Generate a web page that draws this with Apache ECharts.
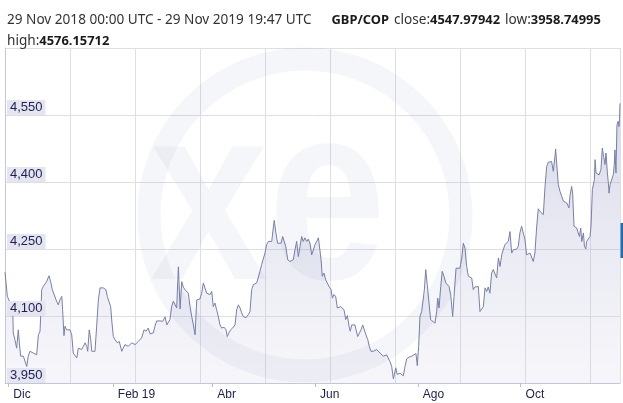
<!DOCTYPE html>
<html><head><meta charset="utf-8">
<script src="https://cdn.jsdelivr.net/npm/echarts@6/dist/echarts.min.js"></script>
<style>html,body{margin:0;padding:0;background:#fff}#c{width:623px;height:403px}</style>
</head><body><div id="c"></div>
<script>
// ---- data ----
const startDate = Date.UTC(2018, 10, 29);   // 29 Nov 2018
const endDate = Date.UTC(2019, 10, 29);     // 29 Nov 2019
const dayOffsets = [
0.0,1.4,4.0,4.6,4.9,5.9,6.9,7.9,8.5,9.3,10.9,11.9,12.9,13.8,14.8,15.8,16.8,17.8,18.8,19.8,20.8,21.8,22.7,23.7,24.7,26.1,27.1,28.1,29.1,30.3,31.6,32.6,33.7,34.2,35.0,35.6,36.6,37.6,38.6,39.6,40.5,41.5,42.6,43.5,44.5,45.5,46.5,47.5,48.5,49.1,50.0,50.9,51.5,52.4,53.4,54.4,55.4,56.4,57.4,58.3,59.9,60.7,61.7,62.7,63.5,64.3,65.3,66.6,67.8,69.3,
71.2,73.2,75.2,77.2,79.1,81.1,82.5,83.7,85.0,86.1,88.0,89.0,90.0,92.0,93.6,95.0,96.0,96.9,97.9,98.9,99.9,100.9,101.9,102.9,103.9,104.9,105.8,106.8,108.8,109.8,110.8,111.8,112.8,113.8,115.7,116.7,117.7,118.7,119.7,120.7,121.7,122.7,123.6,124.6,125.6,126.6,127.6,128.6,130.0,131.2,131.9,132.9,133.9,135.1,136.5,137.5,138.5,139.5,140.5,141.4,143.0,144.4,145.4,
146.4,147.4,149.4,150.4,151.3,152.3,153.3,154.3,155.3,156.3,157.3,158.3,159.2,159.8,160.8,161.8,162.8,163.8,164.8,165.8,166.6,167.8,169.1,170.2,171.1,172.1,173.1,174.1,175.1,176.1,177.0,178.0,179.1,180.0,181.0,182.0,183.0,184.0,185.0,186.0,187.0,187.6,188.3,189.3,190.3,191.3,192.3,193.5,194.3,195.3,196.3,197.2,198.2,199.2,200.2,201.2,202.2,203.2,204.2,204.9,205.8,206.7,207.7,209.3,210.3,211.3,212.3,213.2,214.2,215.3,216.2,217.2,218.6,219.6,
220.6,221.6,222.6,224.5,226.5,227.5,228.5,229.5,230.5,231.9,232.8,234.4,236.4,237.4,238.4,239.9,241.4,242.7,243.9,244.7,245.5,246.3,247.3,248.3,248.9,249.7,250.6,251.6,252.6,253.6,255.2,256.2,256.8,257.6,258.6,259.5,260.5,261.6,262.5,263.5,264.5,265.7,266.5,267.7,268.7,270.0,271.1,272.0,273.0,274.0,275.0,276.0,277.0,277.9,278.9,279.9,280.9,281.9,282.9,283.9,284.9,285.9,286.8,287.8,288.8,289.8,290.8,291.8,292.8,
293.8,294.8,295.7,296.7,297.7,298.7,299.7,300.7,301.7,302.7,303.7,304.6,305.6,306.6,307.6,308.6,309.6,310.6,311.6,312.6,313.5,314.5,315.5,316.5,317.5,318.5,319.5,320.5,321.5,322.4,323.4,324.4,325.4,326.4,326.8,327.4,328.4,329.4,330.4,331.4,332.4,333.4,334.3,334.7,335.3,336.3,336.9,337.7,338.3,339.3,340.3,340.9,341.7,342.3,343.3,343.9,344.7,345.2,346.2,347.2,347.8,348.6,349.2,349.8,350.2,350.8,351.6,352.6,353.7,354.5,355.3,356.1,356.7,357.5,358.1,358.5,359.1,360.1,361.0,361.6,362.0,362.6,363.2,363.9,364.4,364.7,365.0
];
const gbpCop = [
4198,4144,4121,4114,4062,4047,4028,4069,4040,4010,4010,4006,3987,4010,4021,4025,4017,4021,4013,4058,4066,4159,4166,4163,4177,4190,4177,4159,4155,4136,4125,4136,4144,4114,4056,4077,4069,4066,4069,4058,4017,4013,4006,4028,4032,4025,4032,4040,4032,4021,4069,4047,4021,4017,4021,4077,4136,4163,4166,4163,4159,4144,4148,4121,4084,4054,4047,4040,4043,4021,
4036,4032,4040,4036,4043,4051,4069,4066,4073,4060,4062,4077,4089,4089,4088,4098,4080,4078,4092,4121,4133,4129,4118,4210,4116,4177,4165,4159,4151,4121,4099,4080,4058,4136,4138,4151,4174,4177,4151,4155,4148,4155,4121,4129,4114,4099,4080,4073,4075,4069,4054,4062,4069,4073,4080,4114,4125,4118,4107,4099,4096,4103,4110,
4159,4170,4174,4177,4200,4215,4219,4241,4260,4267,4263,4267,4297,4314,4286,4263,4265,4263,4278,4282,4256,4226,4222,4226,4226,4248,4267,4233,4256,4278,4267,4275,4267,4272,4263,4237,4248,4260,4267,4275,4277,4226,4189,4196,4181,4174,4166,4159,4140,4148,4143,4118,4114,4121,4125,4114,4092,4101,4077,4066,4080,4084,4080,4054,4051,4069,4080,4080,4058,4047,4032,4021,4021,4025,
4025,4028,4017,4010,4013,4010,3998,3987,3959,3984,3969,3972,3966,3987,4004,4008,4010,4013,4016,3989,4032,4099,4110,4114,4159,4204,4170,4166,4092,4088,4084,4110,4140,4118,4166,4200,4189,4174,4177,4166,4148,4099,4144,4207,4204,4207,4230,4263,4252,4211,4189,4189,4185,4159,4165,4163,4166,4110,4114,4121,4163,4155,4165,4151,4196,4204,4204,4185,4230,
4211,4237,4233,4260,4263,4267,4289,4241,4248,4252,4250,4256,4286,4301,4301,4271,4237,4237,4241,4237,4222,4241,4297,4340,4334,4331,4327,4390,4435,4444,4448,4446,4424,4457,4474,4443,4394,4379,4368,4357,4354,4353,4349,4342,4369,4390,4375,4301,4301,4297,4293,4278,4297,4267,4286,4256,4250,4267,4267,4278,4301,4383,4383,4405,4450,4420,4420,4416,4428,4476,4457,4439,4465,4420,4398,4375,4394,4398,4416,4439,4472,4420,4528,4536,4524,4539,4576
];
const tickDates = ['2018-12-01', '2019-02-01', '2019-04-01', '2019-06-01', '2019-08-01', '2019-10-01'];
const tickLabels = ['Dic', 'Feb 19', 'Abr', 'Jun', 'Ago', 'Oct'];
const yMin = 3950, yMax = 4700, yStep = 150;
const headerRange = '29 Nov 2018 00:00 UTC - 29 Nov 2019 19:47 UTC';
const headerPair = 'GBP/COP';
const summaryNames = ['close', 'low', 'high'];
const summaryValues = ['4547.97942', '3958.74995', '4576.15712'];

// ---- chart ----
const DAY = 86400000;
const totalDays = (endDate - startDate) / DAY;
const seriesData = dayOffsets.map((d, i) => [d, gbpCop[i]]);
const tickDays = tickDates.map(s => (Date.parse(s + 'T00:00:00Z') - startDate) / DAY);
const labelFor = v => { const i = tickDays.indexOf(v); return i >= 0 ? tickLabels[i] : ''; };

const titleText =
  '{n|' + headerRange + '}    {b|' + headerPair + '} ' +
  '{n|' + summaryNames[0] + ':}{b|' + summaryValues[0] + '} ' +
  '{n|' + summaryNames[1] + ':}{b|' + summaryValues[1] + '}\n' +
  '{n|' + summaryNames[2] + ':}{b|' + summaryValues[2] + '}';

const yLabelStyle = {
  inside: true, margin: 2, align: 'left', verticalAlign: 'bottom',
  showMaxLabel: false,
  formatter: v => v.toLocaleString('en-US'),
  fontFamily: 'Liberation Sans', fontSize: 13, color: '#1c1f55',
  backgroundColor: '#e5e5f0', padding: [1, 3, 1, 3], lineHeight: 13
};

const chart = echarts.init(document.getElementById('c'), null, {renderer: 'canvas'});
chart.setOption({
  animation: false,
  backgroundColor: '#ffffff',
  title: {
    text: titleText, left: 2, top: 5,
    textStyle: {
      rich: {
        n: {fontFamily: 'Noto Sans', fontSize: 13.6, fontWeight: 'normal', color: '#333333', lineHeight: 21},
        b: {fontFamily: 'Noto Sans', fontSize: 12.9, fontWeight: 'bold', color: '#1a1a1a', lineHeight: 21}
      }
    }
  },
  grid: {left: 5, right: 3, top: 48, bottom: 20, containLabel: false},
  xAxis: [{
    type: 'value', min: 0, max: totalDays,
    axisLine: {show: true, onZero: false, lineStyle: {color: '#c3c6dc', width: 1}},
    axisTick: {show: true, customValues: tickDays, length: 4, inside: false, lineStyle: {color: '#b9bcd2'}},
    axisLabel: {
      customValues: tickDays, formatter: labelFor,
      align: 'left', padding: [0, 0, 0, 5], margin: 6,
      fontFamily: 'Liberation Sans', fontSize: 12, color: '#1c1f55'
    },
    splitLine: {show: false}
  }, {
    type: 'value', min: 0, max: 615, interval: 65, position: 'bottom',
    axisLine: {show: false}, axisTick: {show: false}, axisLabel: {show: false},
    splitLine: {show: true, lineStyle: {color: '#dedee4', width: 1}}
  }],
  yAxis: [{
    type: 'value', min: yMin, max: yMax, interval: yStep,
    axisLine: {show: true, lineStyle: {color: '#c3c6dc'}},
    axisTick: {show: false},
    splitLine: {show: true, lineStyle: {color: '#dedee4', width: 1}},
    axisLabel: {show: false}
  }, {
    type: 'value', min: yMin, max: yMax, interval: yStep, position: 'left', z: 10,
    axisLine: {show: false}, axisTick: {show: false}, splitLine: {show: false},
    axisLabel: yLabelStyle
  }],
  graphic: [
    {type: 'circle', z: 100, silent: true, shape: {cx: 305, cy: 215, r: 156},
     style: {fill: 'none', stroke: 'rgba(80,88,150,0.055)', lineWidth: 23}},
    {type: 'text', z: 100, silent: true, x: 268, y: 210, scaleX: 0.85,
     style: {text: 'xe', font: 'bold 250px "Liberation Sans"', fill: 'rgba(80,88,150,0.055)', align: 'center', verticalAlign: 'middle'}},
    {type: 'rect', z: 100, silent: true, shape: {x: 620.5, y: 223, width: 3, height: 35}, style: {fill: '#1f6db3'}}
  ],
  series: [{
    type: 'line', xAxisIndex: 0, yAxisIndex: 0, data: seriesData, showSymbol: false,
    lineStyle: {color: '#7880a8', width: 1},
    areaStyle: {
      color: new echarts.graphic.LinearGradient(0, 0, 0, 1, [
        {offset: 0, color: 'rgba(140,146,190,0.5)'},
        {offset: 1, color: 'rgba(205,205,228,0.25)'}
      ])
    }
  }]
});
</script>
</body></html>
